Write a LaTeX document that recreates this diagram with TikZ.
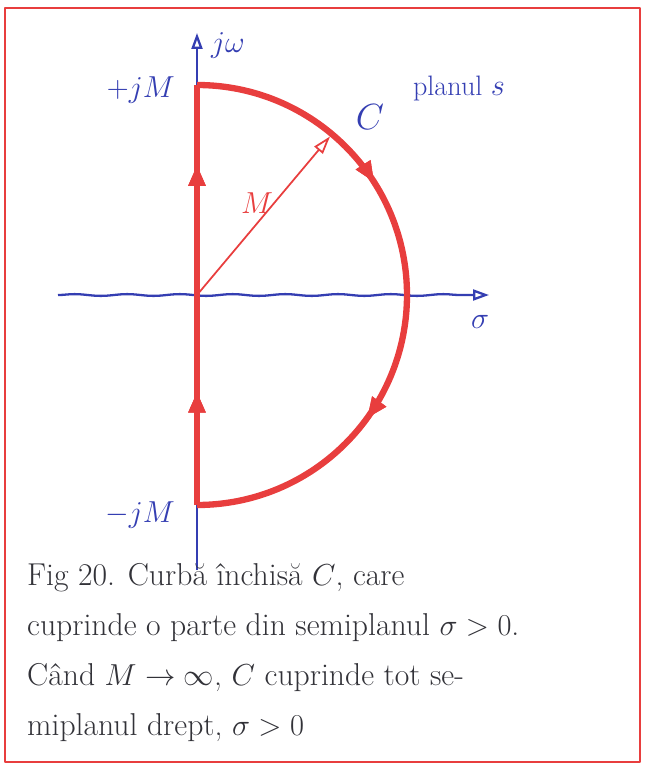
\documentclass[tikz,border=0pt]{standalone}
\usepackage{amsmath,amssymb}
\usepackage{tikz}
\usetikzlibrary{arrows.meta, positioning, decorations.markings, decorations.pathmorphing}

\definecolor{penred}{RGB}{232,62,62}
\definecolor{penblue}{RGB}{52,62,178}
\definecolor{pengray}{RGB}{50,50,56}

\tikzset{
  axisline/.style={penblue, line width=1.3pt, -{Triangle[open, length=0.32cm, width=0.22cm]}},
  contour/.style={penred, line width=3.6pt},
  midarrow/.style={postaction={decorate}, decoration={markings,
      mark=at position #1 with {\arrow{Triangle[length=0.42cm, width=0.32cm]}}}},
  bluelabel/.style={text=penblue, font=\fontsize{17}{17}\selectfont},
}

\begin{document}
\begin{tikzpicture}[x=0.02cm, y=0.02cm]
  \useasboundingbox (-197,-480) rectangle (448,295);
  % frame
  \draw[penred, line width=1.2pt, line join=round] (-192,287) rectangle (443,-467);
  % axes
  \coordinate (O) at (0,0);
  \coordinate (ybot) at (0,-275);
  \coordinate (ytop) at (0,262);
  \coordinate (xleft) at (-139,0);
  \coordinate (xright) at (292,0);
  \coordinate (top) at (90:210);
  \coordinate (bot) at (-90:210);
  \coordinate (rim) at (50:207);
  \draw[axisline] (ybot) -- (ytop);
  \draw[axisline, decorate, decoration={snake, amplitude=0.5, segment length=30, post length=12}]
    (xleft) -- (xright);
  % closed curve C
  \draw[contour, midarrow=0.27, midarrow=0.81] (bot) -- (top);
  \draw[contour, midarrow=0.32, midarrow=0.70] (top) arc[start angle=90, end angle=-90, radius=210];
  \draw[penred, line width=1pt, -{Triangle[open, length=0.36cm, width=0.22cm]}] (O) -- (rim);
  % labels
  \node[bluelabel, anchor=west] (jw) at (8,250) {$j\omega$};
  \node[bluelabel, anchor=east] (jMp) at (-16,205) {$+jM$};
  \node[bluelabel, anchor=east] (jMm) at (-16,-220) {$-jM$};
  \node[bluelabel] (sig) at (283,-27) {$\sigma$};
  \node[bluelabel, font=\fontsize{22}{22}\selectfont] (C) at (173,178) {$C$};
  \node[bluelabel, font=\fontsize{16}{16}\selectfont] (plan) at (262,207) {planul $s$};
  \node[text=penred, font=\fontsize{16}{16}\selectfont] (Mlab) at (60,92) {$M$};
  % caption
  \node[text=pengray, anchor=north west, align=left, font=\fontsize{18}{28.5}\selectfont]
    (caption) at (-176,-262) {Fig 20. Curbă închisă $C$, care\\
    cuprinde o parte din semiplanul $\sigma>0$.\\
    Când $M\to\infty$, $C$ cuprinde tot se-\\
    miplanul drept, $\sigma>0$};
\end{tikzpicture}
\end{document}
